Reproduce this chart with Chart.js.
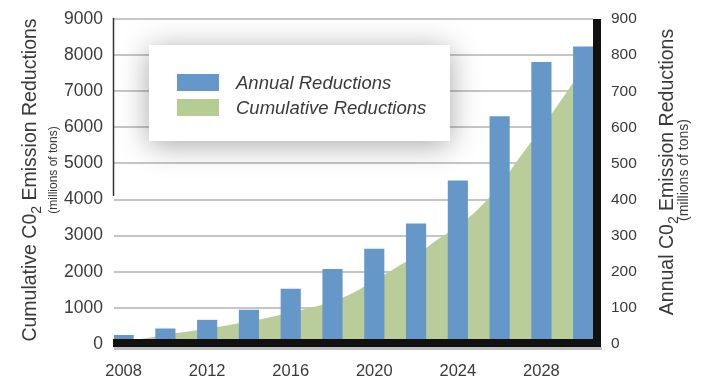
<!DOCTYPE html>
<html>
<head>
<meta charset="utf-8">
<script src="https://cdn.jsdelivr.net/npm/chart.js@4.4.1/dist/chart.umd.min.js"></script>
<style>
  html, body { margin: 0; padding: 0; background: #fff; }
  #wrap { width: 709px; height: 376px; }
</style>
</head>
<body>
<div id="wrap"><canvas id="graphique" width="709" height="376"></canvas></div>
<script>
// data
var years = [2008, 2010, 2012, 2014, 2016, 2018, 2020, 2022, 2024, 2026, 2028, 2030];
var annual = [24, 42, 66, 94, 152, 207, 263, 333, 452, 630, 780, 823];
var cumYears = [2008, 2009, 2010, 2011, 2012, 2013, 2014, 2015, 2016, 2017, 2018, 2019,
                2020, 2021, 2022, 2023, 2024, 2025, 2026, 2027, 2028, 2029, 2030];
var cumulative = [40, 150, 250, 340, 430, 520, 620, 740, 870, 1010, 1180, 1420,
                  1760, 2100, 2450, 2880, 3260, 3750, 4400, 5200, 5980, 6800, 7650];
var xTicks = [2008, 2012, 2016, 2020, 2024, 2028];
var leftTicks = [0, 1000, 2000, 3000, 4000, 5000, 6000, 7000, 8000, 9000];
var rightTicks = [0, 100, 200, 300, 400, 500, 600, 700, 800, 900];
var seriesNames = ['Annual Reductions', 'Cumulative Reductions'];

var FONT = '"Liberation Sans", Arial, Helvetica, sans-serif';
var TXT = '#3a3a3a';

function drawVTitle(ctx, parts, baseX, cy) {
    var total = 0;
    parts.forEach(function(p) {
        ctx.font = p.size + 'px ' + FONT;
        p.w = ctx.measureText(p.t).width;
        total += p.w;
    });
    ctx.save();
    ctx.translate(baseX, cy);
    ctx.rotate(-Math.PI / 2);
    ctx.fillStyle = TXT;
    ctx.textBaseline = 'alphabetic';
    ctx.textAlign = 'left';
    var x = -total / 2;
    parts.forEach(function(p) {
        ctx.font = p.size + 'px ' + FONT;
        ctx.fillText(p.t, x, p.dy || 0);
        x += p.w;
    });
    ctx.restore();
}

// vertical axes: fixed width, no extra room above/below for labels
function fitY(width) {
    return function(s) {
        s.width = width;
        s.paddingTop = 0;
        s.paddingBottom = 0;
    };
}

var decor = {
    id: 'decor',
    afterDatasetsDraw: function(chart) {
        var ctx = chart.ctx;
        var a = chart.chartArea;
        ctx.save();
        // thin left axis line (upper part only)
        ctx.strokeStyle = '#333';
        ctx.lineWidth = 1.5;
        ctx.beginPath();
        ctx.moveTo(a.left - 0.5, a.top - 1);
        ctx.lineTo(a.left - 0.5, 196);
        ctx.stroke();
        // heavy bottom and right frame
        ctx.fillStyle = 'rgba(0,0,0,0.25)';
        ctx.fillRect(a.left, a.bottom + 3, a.right - a.left + 9, 3);
        ctx.fillStyle = '#111';
        ctx.fillRect(a.left - 1, a.bottom - 5, a.right - a.left + 9, 8);
        ctx.fillRect(a.right, a.top, 8, a.bottom - a.top + 3);

        // legend box
        var bx = 149, by = 45, bw = 301, bh = 96;
        ctx.shadowColor = 'rgba(0,0,0,0.35)';
        ctx.shadowBlur = 28;
        ctx.shadowOffsetY = 4;
        ctx.fillStyle = '#fff';
        ctx.fillRect(bx, by, bw, bh);
        ctx.shadowColor = 'transparent';
        ctx.shadowBlur = 0;
        ctx.shadowOffsetY = 0;
        var ds = chart.data.datasets;
        ctx.font = 'italic 18.5px ' + FONT;
        ctx.textBaseline = 'alphabetic';
        ctx.textAlign = 'left';
        for (var i = 0; i < ds.length; i++) {
            var sy = 74 + i * 25;
            ctx.fillStyle = ds[i].legendColor;
            ctx.fillRect(177, sy, 42, 17);
            ctx.fillStyle = TXT;
            ctx.fillText(ds[i].label, 236, sy + 15);
        }
        ctx.restore();
    },
    afterDraw: function(chart) {
        var ctx = chart.ctx;
        drawVTitle(ctx, [
            { t: 'Cumulative C0', size: 19.5 },
            { t: '2', size: 14, dy: 5 },
            { t: ' Emission Reductions', size: 19.5 }
        ], 36, 180);
        drawVTitle(ctx, [{ t: '(millions of tons)', size: 12 }], 57, 170);
        drawVTitle(ctx, [
            { t: 'Annual C0', size: 19.5 },
            { t: '2', size: 14, dy: 5 },
            { t: ' Emission Reductions', size: 19.5 }
        ], 673, 172);
        drawVTitle(ctx, [{ t: '(millions of tons)', size: 14 }], 688, 170);
    }
};

document.addEventListener('DOMContentLoaded', function() {
    var ctx = document.getElementById('graphique').getContext('2d');
    var graphique = new Chart(ctx, {
        type: 'bar',
        data: {
            datasets: [{
                type: 'bar',
                label: seriesNames[0],
                data: years.map(function(y, i) { return { x: y, y: annual[i] }; }),
                backgroundColor: '#6598c8',
                legendColor: '#6598c8',
                barThickness: 19.5,
                yAxisID: 'y2',
                order: 1
            }, {
                type: 'line',
                label: seriesNames[1],
                data: cumYears.map(function(y, i) { return { x: y, y: cumulative[i] }; }),
                backgroundColor: '#b9cc99',
                legendColor: '#b4cd93',
                borderWidth: 0,
                pointRadius: 0,
                fill: 'origin',
                cubicInterpolationMode: 'monotone',
                yAxisID: 'y',
                order: 2
            }]
        },
        options: {
            responsive: false,
            animation: false,
            layout: { padding: { top: 19, left: 0, right: 0, bottom: 0 } },
            plugins: { legend: { display: false }, tooltip: { enabled: false } },
            scales: {
                x: {
                    type: 'linear',
                    min: 2007.54,
                    max: 2030.47,
                    offset: false,
                    grid: { display: false },
                    border: { display: false },
                    afterBuildTicks: function(s) { s.ticks = xTicks.map(function(v) { return { value: v }; }); },
                    afterFit: function(s) { s.height = 32; },
                    ticks: {
                        padding: 10,
                        color: TXT,
                        font: { family: FONT, size: 16.5 },
                        maxRotation: 0,
                        callback: function(v) { return String(v); }
                    }
                },
                y: {
                    position: 'left',
                    min: 0,
                    max: 9000,
                    afterBuildTicks: function(s) { s.ticks = leftTicks.map(function(v) { return { value: v }; }); },
                    afterFit: fitY(114),
                    grid: { color: '#c6c6c6', lineWidth: 2, drawTicks: false },
                    border: { display: false },
                    ticks: {
                        padding: 11,
                        color: TXT,
                        font: { family: FONT, size: 17.5 },
                        callback: function(v) { return String(v); }
                    }
                },
                y2: {
                    position: 'right',
                    min: 0,
                    max: 900,
                    afterBuildTicks: function(s) { s.ticks = rightTicks.map(function(v) { return { value: v }; }); },
                    afterFit: fitY(116),
                    grid: { display: false, drawTicks: false },
                    border: { display: false },
                    ticks: {
                        padding: 18,
                        color: TXT,
                        font: { family: FONT, size: 15.5 },
                        callback: function(v) { return String(v); }
                    }
                }
            }
        },
        plugins: [decor]
    });
});
</script>
</body>
</html>
